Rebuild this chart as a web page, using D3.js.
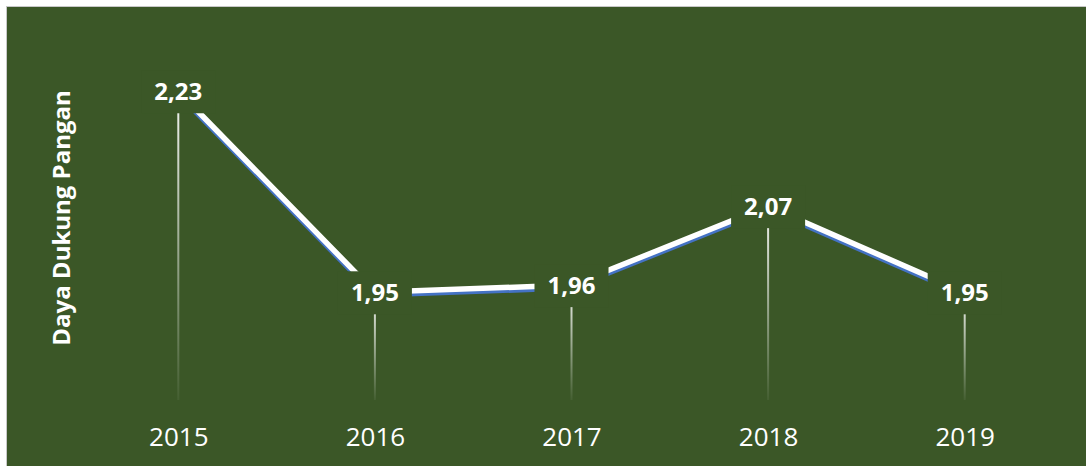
<!DOCTYPE html>
<html>
<head>
<meta charset="utf-8">
<script src="https://cdn.jsdelivr.net/npm/d3@7"></script>
<style>
  body { margin: 0; background: #fff; }
  svg { display: block; }
</style>
</head>
<body>
<div class="chart"></div>
<script>
var years = ["2015", "2016", "2017", "2018", "2019"];
var values = [2.23, 1.95, 1.96, 2.07, 1.95];
var labels = ["2,23", "1,95", "1,96", "2,07", "1,95"];
var yTitle = "Daya Dukung Pangan";

var W = 1086, H = 466;
var margin = {top: 41, right: 23, bottom: 66, left: 80},
    width = W - margin.left - margin.right,
    height = H - margin.top - margin.bottom;

var x = d3.scalePoint().domain(years).range([0, width]).padding(0.5);
var y = d3.scaleLinear().domain([1.8, 2.3]).range([height, 0]);

var svg = d3.select(".chart").append("svg")
    .attr("width", W).attr("height", H);

// frame + background
svg.append("rect")
    .attr("x", 6.5).attr("y", 6.5)
    .attr("width", W).attr("height", H)
    .attr("fill", "#3b5727")
    .attr("stroke", "#c8c8c8").attr("stroke-width", 1);

var defs = svg.append("defs");
var grad = defs.append("linearGradient")
    .attr("id", "drop").attr("x1", 0).attr("y1", 0).attr("x2", 0).attr("y2", 1);
grad.append("stop").attr("offset", "0%").attr("stop-color", "#fff").attr("stop-opacity", 0.95);
grad.append("stop").attr("offset", "100%").attr("stop-color", "#fff").attr("stop-opacity", 0.05);

var g = svg.append("g")
    .attr("transform", "translate(" + margin.left + "," + margin.top + ")");

var data = years.map(function(d, i) { return {year: d, value: values[i], label: labels[i]}; });

// drop lines
g.selectAll(".drop").data(data).enter().append("rect")
    .attr("class", "drop")
    .attr("x", function(d) { return x(d.year) - 1; })
    .attr("y", function(d) { return y(d.value); })
    .attr("width", 2)
    .attr("height", function(d) { return height - y(d.value); })
    .attr("fill", "url(#drop)");

var line = d3.line()
    .x(function(d) { return x(d.year); })
    .y(function(d) { return y(d.value); });

// shadow then white line
g.append("path")
    .attr("d", line(data))
    .attr("transform", "translate(0,3)")
    .attr("fill", "none").attr("stroke", "#4472c4").attr("stroke-width", 5);
g.append("path")
    .attr("d", line(data))
    .attr("fill", "none").attr("stroke", "#ffffff").attr("stroke-width", 5.5);

// data labels with background
var lab = g.selectAll(".lab").data(data).enter().append("g")
    .attr("class", "lab")
    .attr("transform", function(d) { return "translate(" + x(d.year) + "," + y(d.value) + ")"; });
var bg = lab.append("rect").attr("fill", "#3b5727");
lab.append("text")
    .attr("text-anchor", "middle")
    .attr("dy", "0.35em")
    .attr("fill", "#fff")
    .style("font-family", "'Open Sans', sans-serif")
    .style("font-weight", "bold")
    .style("font-size", "24px")
    .text(function(d) { return d.label; });
bg.each(function() {
    var w = this.parentNode.querySelector("text").getBBox().width + 26;
    d3.select(this).attr("x", -w / 2).attr("width", w).attr("y", -21).attr("height", 43);
});

// x axis labels
var xAxis = d3.axisBottom(x).tickSize(0).tickPadding(0);
var ax = g.append("g")
    .attr("transform", "translate(0," + (height + 37) + ")")
    .call(xAxis);
ax.select(".domain").remove();
ax.selectAll("text")
    .attr("fill", "#fff")
    .attr("dy", "0.35em")
    .style("font-family", "'Open Sans', sans-serif")
    .style("font-size", "26px");

// y title
svg.append("text")
    .attr("transform", "translate(62," + 218 + ") rotate(-90)")
    .attr("text-anchor", "middle")
    .attr("dy", "0.35em")
    .attr("fill", "#fff")
    .style("font-family", "'Open Sans', sans-serif")
    .style("font-weight", "bold")
    .style("font-size", "24px")
    .text(yTitle);
</script>
</body>
</html>
